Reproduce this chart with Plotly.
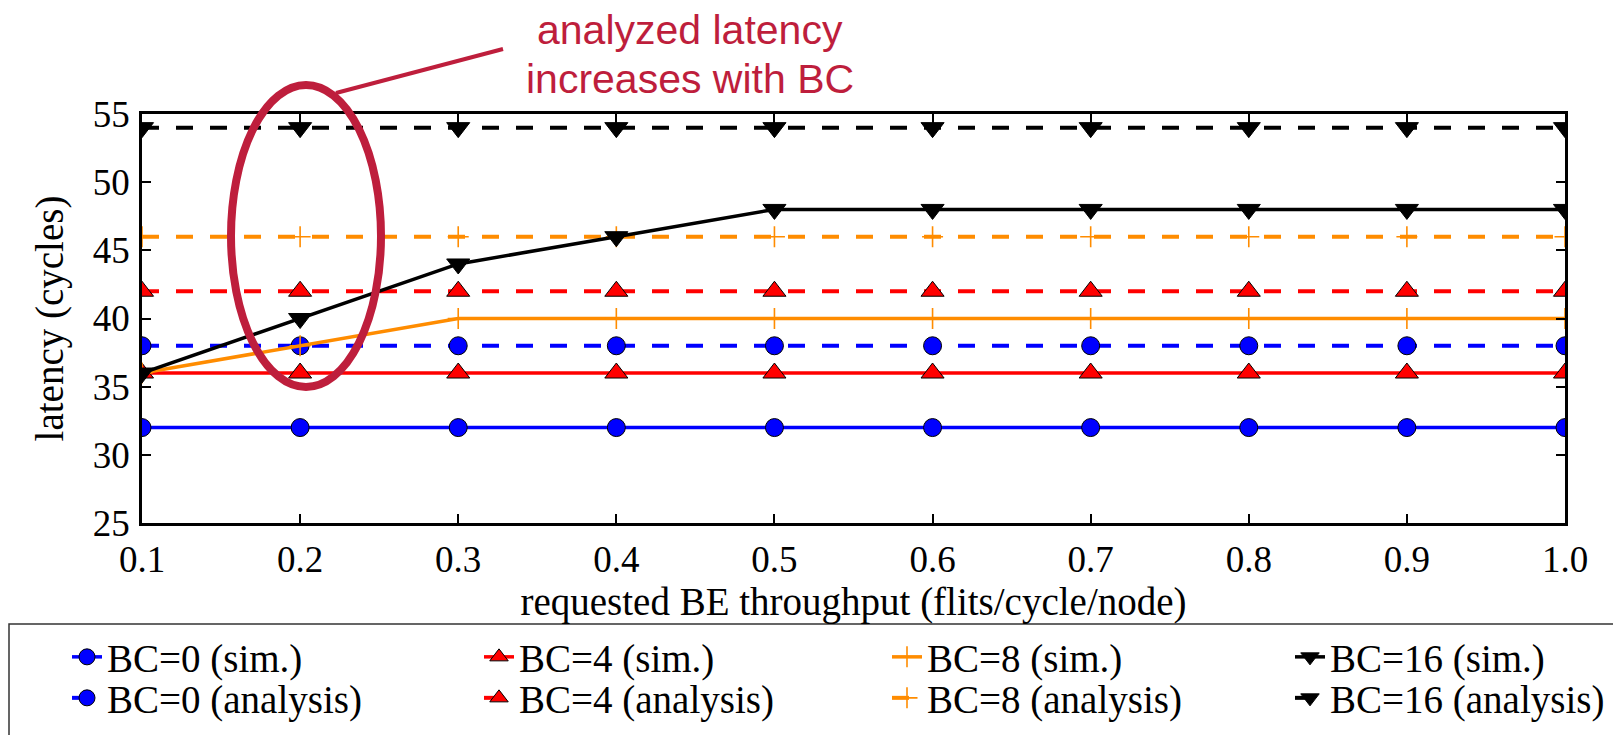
import plotly.graph_objects as go

# ---------------- data ----------------
x_vals = [0.1, 0.2, 0.3, 0.4, 0.5, 0.6, 0.7, 0.8, 0.9, 1.0]
bc0_sim = [32, 32, 32, 32, 32, 32, 32, 32, 32, 32]
bc0_ana = [38, 38, 38, 38, 38, 38, 38, 38, 38, 38]
bc4_sim = [36, 36, 36, 36, 36, 36, 36, 36, 36, 36]
bc4_ana = [42, 42, 42, 42, 42, 42, 42, 42, 42, 42]
bc8_sim = [36, 38, 40, 40, 40, 40, 40, 40, 40, 40]
bc8_ana = [46, 46, 46, 46, 46, 46, 46, 46, 46, 46]
bc16_sim = [36, 40, 44, 46, 48, 48, 48, 48, 48, 48]
bc16_ana = [54, 54, 54, 54, 54, 54, 54, 54, 54, 54]
y_ticks = [25, 30, 35, 40, 45, 50, 55]
x_ticks = [0.1, 0.2, 0.3, 0.4, 0.5, 0.6, 0.7, 0.8, 0.9, 1.0]

# ---------------- layout geometry (pixels, screenshot coords) ----------------
OFF = 8  # default page body margin
FW, FH = 1621 - OFF, 735 - OFF
PL, PR, PT, PB = 142, 1565, 114, 523  # plot area in screenshot pixels
ML, MT = PL - OFF, PT - OFF
MR, MB = FW - (PR - OFF), FH - (PB - OFF)
W, H = PR - PL, PB - PT


def px(x):
    return (x - PL) / W


def py(y):
    return (PB - y) / H


SERIF = "Liberation Serif, Times New Roman, serif"
SANS = "Liberation Sans, Arial, sans-serif"
ACCENT = "#BE1E3C"
BLUE, RED, ORANGE, BLACK = "#0000FF", "#FF0000", "#FF8C00", "#000000"
DASH = "17px,17px"

series = [
    # name, y, color, symbol, dashed, legend slot (col,row)
    ("BC=0 (sim.)", bc0_sim, BLUE, "circle", False, (0, 0)),
    ("BC=0 (analysis)", bc0_ana, BLUE, "circle", True, (0, 1)),
    ("BC=4 (sim.)", bc4_sim, RED, "triangle-up", False, (1, 0)),
    ("BC=4 (analysis)", bc4_ana, RED, "triangle-up", True, (1, 1)),
    ("BC=8 (sim.)", bc8_sim, ORANGE, "cross-thin", False, (2, 0)),
    ("BC=8 (analysis)", bc8_ana, ORANGE, "cross-thin", True, (2, 1)),
    ("BC=16 (sim.)", bc16_sim, BLACK, "triangle-down", False, (3, 0)),
    ("BC=16 (analysis)", bc16_ana, BLACK, "triangle-down", True, (3, 1)),
]

legend_text_x = [109, 521, 929, 1332]
legend_row_y = [657, 698]

fig = go.Figure()
layout_legends = {}
for i, (name, ys, col, sym, dashed, (c, r)) in enumerate(series):
    lname = "legend" if i == 0 else f"legend{i + 1}"
    if sym == "cross-thin":
        marker = dict(symbol=sym, size=15, color=col, line=dict(color=col, width=1.6))
    elif sym == "circle":
        marker = dict(symbol=sym, size=18, color=col, line=dict(color="black", width=1))
    else:
        marker = dict(symbol=sym, size=20, color=col, line=dict(color="black", width=1))
    fig.add_trace(go.Scatter(
        x=x_vals, y=ys, name=name, mode="lines+markers",
        line=dict(color=col, width=4 if dashed else 3.5, dash=DASH if dashed else "solid"),
        marker=marker, legend=lname, showlegend=True,
    ))
    layout_legends[lname] = dict(
        x=px(legend_text_x[c] - 42), y=py(legend_row_y[r]),
        xanchor="left", yanchor="middle", orientation="h",
        bgcolor="rgba(0,0,0,0)", borderwidth=0,
        font=dict(family=SERIF, size=39, color="black"),
    )

axis_common = dict(
    showline=True, linecolor="black", linewidth=2.5, mirror="ticks",
    ticks="inside", ticklen=9, tickwidth=2, tickcolor="black",
    showgrid=False, zeroline=False,
    tickfont=dict(family=SERIF, size=37, color="black"),
)

fig.update_layout(
    width=FW, height=FH, showlegend=True,
    margin=dict(l=ML, r=MR, t=MT, b=MB, autoexpand=False),
    paper_bgcolor="white", plot_bgcolor="white",
    xaxis=dict(range=[0.1, 1.0], tickvals=x_ticks, tickformat=".1f",
               title=dict(text="requested BE throughput (flits/cycle/node)",
                          font=dict(family=SERIF, size=39, color="black"), standoff=8),
               ticklabelstandoff=2, automargin=False, **axis_common),
    yaxis=dict(range=[25, 55], tickvals=y_ticks,
               title=dict(text="latency (cycles)",
                          font=dict(family=SERIF, size=39, color="black"), standoff=18),
               ticklabelstandoff=2, automargin=False, **axis_common),
    **layout_legends,
)

# legend frame
fig.add_shape(type="rect", xref="paper", yref="paper",
              x0=px(9), x1=px(1680), y0=py(624), y1=py(800),
              line=dict(color="#333333", width=1.5), fillcolor="rgba(0,0,0,0)", layer="above")

# highlight ellipse and connector
fig.add_shape(type="circle", xref="paper", yref="paper",
              x0=px(231), x1=px(381), y0=py(387), y1=py(85),
              line=dict(color=ACCENT, width=8), layer="above")
fig.add_shape(type="line", xref="paper", yref="paper",
              x0=px(336), y0=py(93), x1=px(503), y1=py(49),
              line=dict(color=ACCENT, width=4), layer="above")

fig.add_annotation(text="analyzed latency", xref="paper", yref="paper",
                   x=px(690), y=py(30), xanchor="center", yanchor="middle",
                   showarrow=False, font=dict(family=SANS, size=41, color=ACCENT))
fig.add_annotation(text="increases with BC", xref="paper", yref="paper",
                   x=px(690), y=py(79), xanchor="center", yanchor="middle",
                   showarrow=False, font=dict(family=SANS, size=41, color=ACCENT))

fig.write_html("out.html")
